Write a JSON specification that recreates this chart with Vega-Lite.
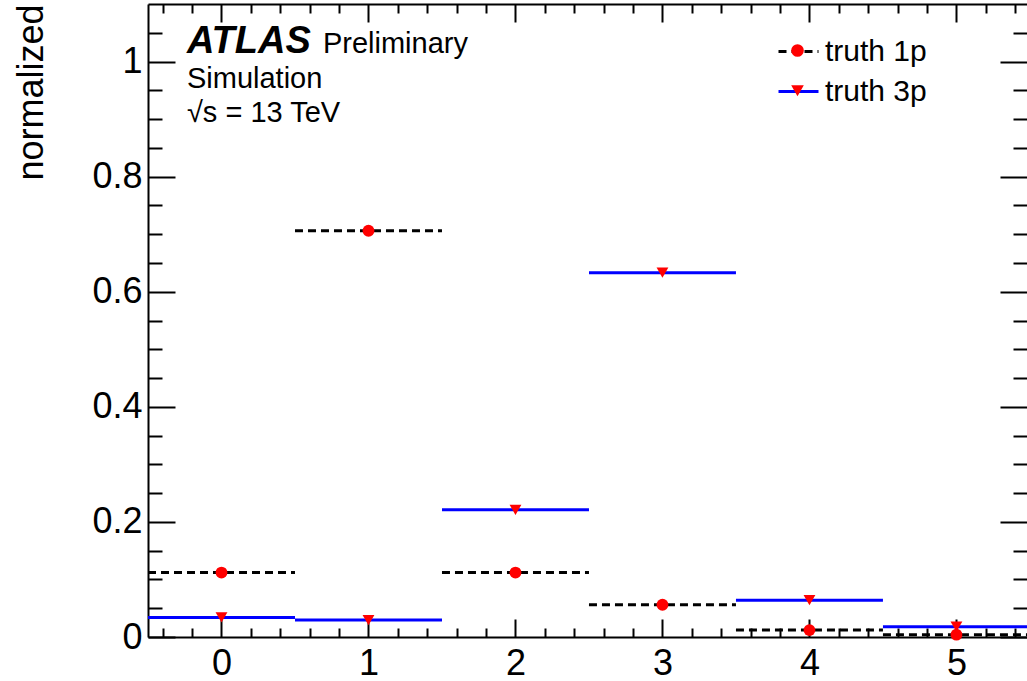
{
  "$schema": "https://vega.github.io/schema/vega-lite/v6.json",
  "width": 879,
  "height": 633,
  "autosize": {"type": "none"},
  "padding": {"left": 148, "top": 4, "right": 0, "bottom": 44},
  "background": "white",
  "config": {
    "view": {"stroke": null},
    "axis": {
      "grid": false,
      "labelFont": "Liberation Sans",
      "titleFont": "Liberation Sans",
      "labelColor": "black",
      "domainColor": "black",
      "tickColor": "black",
      "domainWidth": 2,
      "tickWidth": 2,
      "labelFlush": false
    }
  },
  "datasets": {
    "h": [
      {"bin": 0, "lo": -0.5, "hi": 0.5, "value": 0.112, "series": "truth 1p"},
      {"bin": 1, "lo": 0.5, "hi": 1.5, "value": 0.706, "series": "truth 1p"},
      {"bin": 2, "lo": 1.5, "hi": 2.5, "value": 0.112, "series": "truth 1p"},
      {"bin": 3, "lo": 2.5, "hi": 3.5, "value": 0.056, "series": "truth 1p"},
      {"bin": 4, "lo": 3.5, "hi": 4.5, "value": 0.012, "series": "truth 1p"},
      {"bin": 5, "lo": 4.5, "hi": 5.5, "value": 0.004, "series": "truth 1p"},
      {"bin": 0, "lo": -0.5, "hi": 0.5, "value": 0.034, "series": "truth 3p"},
      {"bin": 1, "lo": 0.5, "hi": 1.5, "value": 0.0295, "series": "truth 3p"},
      {"bin": 2, "lo": 1.5, "hi": 2.5, "value": 0.221, "series": "truth 3p"},
      {"bin": 3, "lo": 2.5, "hi": 3.5, "value": 0.633, "series": "truth 3p"},
      {"bin": 4, "lo": 3.5, "hi": 4.5, "value": 0.064, "series": "truth 3p"},
      {"bin": 5, "lo": 4.5, "hi": 5.5, "value": 0.018, "series": "truth 3p"}
    ]
  },
  "layer": [
    {
      "data": {"name": "h"},
      "mark": {"type": "rule", "strokeWidth": 3, "clip": true},
      "encoding": {
        "x": {
          "field": "lo", "type": "quantitative",
          "scale": {"domain": [-0.5, 5.48], "nice": false, "zero": false},
          "axis": {"orient": "bottom", "values": [0, 1, 2, 3, 4, 5], "format": "d", "ticks": false, "domain": true, "labelFontSize": 36, "labelPadding": 9, "title": null}
        },
        "x2": {"field": "hi"},
        "y": {
          "field": "value", "type": "quantitative",
          "scale": {"domain": [0, 1.1], "nice": false, "zero": false},
          "axis": {"orient": "left", "values": [0, 0.2, 0.4, 0.6, 0.8, 1], "format": "~g", "ticks": false, "domain": true, "labelFontSize": 36, "labelPadding": 6,
            "title": "normalized", "titleFontSize": 36, "titleFontWeight": "normal", "titleColor": "black", "titleAnchor": "end", "titleAngle": -90, "titleAlign": "right", "titleBaseline": "alphabetic", "titleX": -106, "titleY": 0}
        },
        "color": {
          "field": "series", "type": "nominal",
          "scale": {"domain": ["truth 1p", "truth 3p"], "range": ["#000000", "#0000ff"]},
          "legend": {"orient": "none", "legendX": 629, "legendY": 26, "title": null, "symbolType": "stroke", "symbolSize": 1600, "symbolStrokeWidth": 3, "labelFontSize": 30, "labelFont": "Liberation Sans", "labelColor": "black", "labelOffset": 5, "rowPadding": 3, "padding": 0, "symbolOpacity": 1}
        },
        "strokeDash": {
          "field": "series", "type": "nominal",
          "scale": {"domain": ["truth 1p", "truth 3p"], "range": [[8, 5], [1, 0]]},
          "legend": {"orient": "none", "legendX": 629, "legendY": 26, "title": null, "symbolType": "stroke", "symbolSize": 1600, "symbolStrokeWidth": 3, "labelFontSize": 30, "labelFont": "Liberation Sans", "labelColor": "black", "labelOffset": 5, "rowPadding": 3, "padding": 0, "symbolOpacity": 1}
        }
      }
    },
    {
      "data": {"name": "h"},
      "mark": {"type": "point", "filled": true, "color": "#ff0000", "size": 140, "opacity": 1, "strokeWidth": 0},
      "encoding": {
        "x": {"field": "bin", "type": "quantitative", "axis": {"orient": "bottom", "values": [0, 1, 2, 3, 4, 5], "labels": false, "domain": false, "tickSize": -18, "title": null}},
        "y": {"field": "value", "type": "quantitative", "axis": {"orient": "left", "values": [0, 0.2, 0.4, 0.6, 0.8, 1], "labels": false, "domain": false, "tickSize": -27, "title": null}},
        "shape": {
          "field": "series", "type": "nominal",
          "scale": {"range": ["circle", "triangle-down"]},
          "legend": {"orient": "none", "legendX": 643, "legendY": 40, "title": null, "symbolSize": 160, "symbolFillColor": "#ff0000", "symbolStrokeColor": "#ff0000", "symbolStrokeWidth": 0, "symbolOpacity": 1, "labelFontSize": 0, "labelExpr": "''", "labelOffset": 0, "rowPadding": 27.35, "padding": 0}
        }
      }
    },
    {
      "data": {"name": "h"},
      "mark": {"type": "point", "opacity": 0},
      "encoding": {
        "x": {"field": "bin", "type": "quantitative", "axis": {"orient": "bottom", "values": [-0.4, -0.2, 0.2, 0.4, 0.6, 0.8, 1.2, 1.4, 1.6, 1.8, 2.2, 2.4, 2.6, 2.8, 3.2, 3.4, 3.6, 3.8, 4.2, 4.4, 4.6, 4.8, 5.2, 5.4], "labels": false, "domain": false, "tickSize": -9, "title": null}},
        "y": {"field": "value", "type": "quantitative", "axis": {"orient": "left", "values": [0.05, 0.1, 0.15, 0.25, 0.3, 0.35, 0.45, 0.5, 0.55, 0.65, 0.7, 0.75, 0.85, 0.9, 0.95, 1.05], "labels": false, "domain": false, "tickSize": -14, "title": null}}
      }
    },
    {
      "data": {"name": "h"},
      "mark": {"type": "point", "opacity": 0},
      "encoding": {
        "x": {"field": "bin", "type": "quantitative", "axis": {"orient": "top", "values": [0, 1, 2, 3, 4, 5], "labels": false, "domain": true, "tickSize": -18, "title": null}},
        "y": {"field": "value", "type": "quantitative", "axis": {"orient": "right", "values": [0, 0.2, 0.4, 0.6, 0.8, 1], "labels": false, "domain": false, "tickSize": -27, "title": null}}
      }
    },
    {
      "data": {"name": "h"},
      "mark": {"type": "point", "opacity": 0},
      "encoding": {
        "x": {"field": "bin", "type": "quantitative", "axis": {"orient": "top", "values": [-0.4, -0.2, 0.2, 0.4, 0.6, 0.8, 1.2, 1.4, 1.6, 1.8, 2.2, 2.4, 2.6, 2.8, 3.2, 3.4, 3.6, 3.8, 4.2, 4.4, 4.6, 4.8, 5.2, 5.4], "labels": false, "domain": false, "tickSize": -9, "title": null}},
        "y": {"field": "value", "type": "quantitative", "axis": {"orient": "right", "values": [0.05, 0.1, 0.15, 0.25, 0.3, 0.35, 0.45, 0.5, 0.55, 0.65, 0.7, 0.75, 0.85, 0.9, 0.95, 1.05], "labels": false, "domain": false, "tickSize": -14, "title": null}}
      }
    },
    {
      "data": {"values": [{}]},
      "mark": {"type": "text", "text": "ATLAS", "font": "Liberation Sans", "fontSize": 38, "fontWeight": "bold", "fontStyle": "italic", "align": "left", "baseline": "alphabetic", "color": "black"},
      "encoding": {
        "x": {"datum": -0.235, "type": "quantitative", "axis": null},
        "y": {"datum": 1.015, "type": "quantitative", "axis": null}
      }
    },
    {
      "data": {"values": [{}]},
      "mark": {"type": "text", "text": "Preliminary", "font": "Liberation Sans", "fontSize": 29, "align": "left", "baseline": "alphabetic", "color": "black"},
      "encoding": {
        "x": {"datum": 0.69, "type": "quantitative", "axis": null},
        "y": {"datum": 1.015, "type": "quantitative", "axis": null}
      }
    },
    {
      "data": {"values": [{}]},
      "mark": {"type": "text", "text": ["Simulation", "√s = 13 TeV"], "lineHeight": 34, "font": "Liberation Sans", "fontSize": 29, "align": "left", "baseline": "alphabetic", "color": "black"},
      "encoding": {
        "x": {"datum": -0.235, "type": "quantitative", "axis": null},
        "y": {"datum": 0.954, "type": "quantitative", "axis": null}
      }
    }
  ],
  "resolve": {"axis": {"x": "independent", "y": "independent"}}
}
